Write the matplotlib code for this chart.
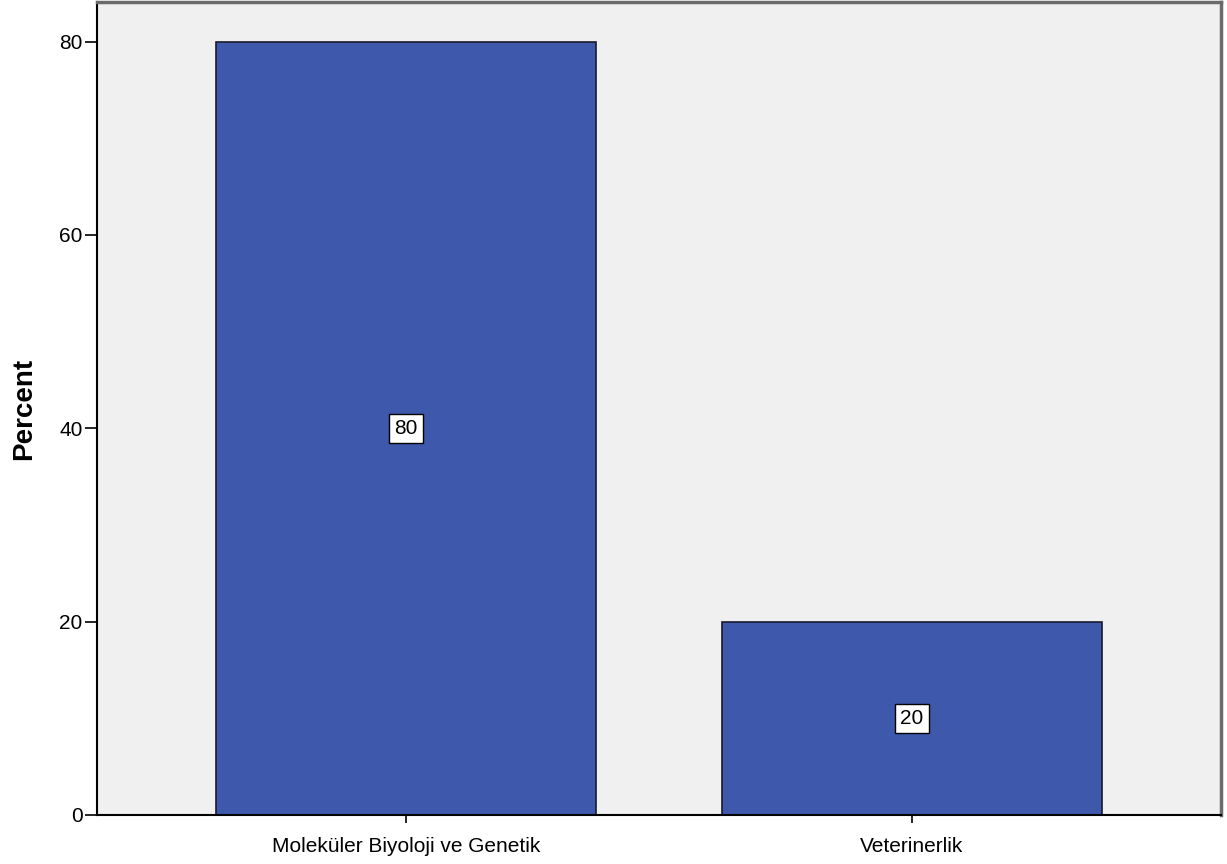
import matplotlib
matplotlib.use("Agg")
import matplotlib.pyplot as plt

categories = ["Moleküler Biyoloji ve Genetik", "Veterinerlik"]
percents = [80, 20]
yticks = [0, 20, 40, 60, 80]

plt.rcParams['font.family'] = ['Liberation Sans', 'DejaVu Sans']

fig = plt.figure(figsize=(12.27, 8.64), dpi=100)
ax = fig.add_axes([97/1227, 49/864, (1221-97)/1227, (815-2)/864])
ax.set_facecolor('#f0f0f0')

x = list(range(len(categories)))
ax.bar(x, percents, width=0.751, color='#3e58ac', edgecolor='#1a1a2e', linewidth=1.2, zorder=2)
for xi, v in zip(x, percents):
    ax.text(xi, v / 2, f"{v}", ha='center', va='center', fontsize=15, color='black', zorder=3,
            bbox=dict(boxstyle='square,pad=0.25', facecolor='white', edgecolor='black', linewidth=1))

ax.set_xlim(-0.611, 1.611)
ax.set_ylim(0, 84.1)
ax.set_yticks(yticks)
ax.set_xticks(x)
ax.set_xticklabels(categories, fontsize=15)
ax.tick_params(axis='x', length=6, width=1.2, pad=10)
ax.tick_params(axis='y', length=9, width=1.2, labelsize=15, pad=1.5)
ax.set_ylabel('Percent', fontsize=20, fontweight='bold', labelpad=16)

for s in ['left', 'bottom']:
    ax.spines[s].set_color('black')
    ax.spines[s].set_linewidth(1.5)
for s in ['top', 'right']:
    ax.spines[s].set_color('#6b6b6b')
    ax.spines[s].set_linewidth(2.5)

fig.savefig('out.png', dpi=100, facecolor='white')
